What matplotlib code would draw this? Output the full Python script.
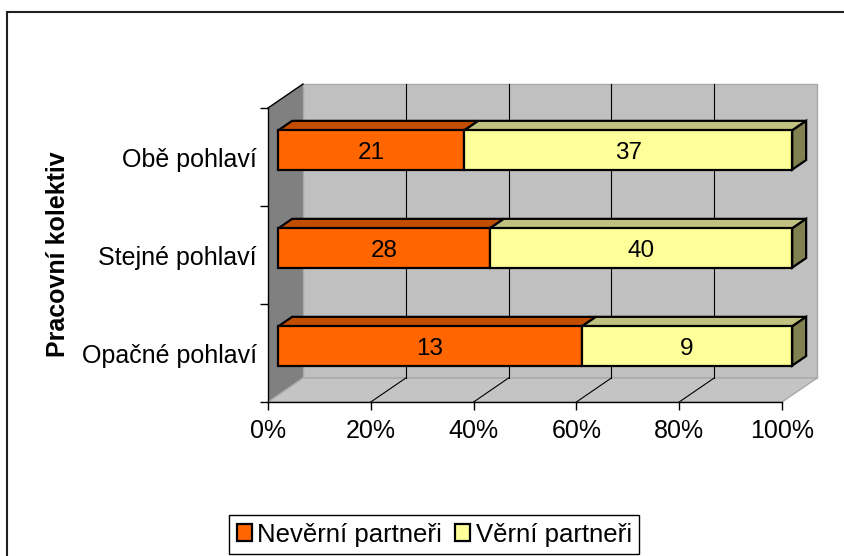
import matplotlib
matplotlib.use("Agg")
import matplotlib.pyplot as plt
from matplotlib.patches import Polygon, Rectangle, Patch
import numpy as np

plt.rcParams['font.family'] = ['Liberation Sans', 'DejaVu Sans']

# data (pocty odpovedi)
categories = ['Opačné pohlaví', 'Stejné pohlaví', 'Obě pohlaví']
neverni = [13, 28, 21]
verni = [9, 40, 37]
series_names = ['Nevěrní partneři', 'Věrní partneři']
x_ticks = [0, 20, 40, 60, 80, 100]
x_tick_labels = ['0%', '20%', '40%', '60%', '80%', '100%']
y_label = 'Pracovní kolektiv'

# barvy
front_cols = ['#FF6600', '#FFFF99']
top_cols = ['#C04D00', '#C0C080']
side_cols = ['#C04D00', '#808050']

W, H = 845, 556
fig = plt.figure(figsize=(W / 100, H / 100), dpi=100)
fig.patch.set_facecolor('white')

ax = fig.add_axes([268 / W, 1 - 402 / H, 514 / W, 294 / H])
ax.set_xlim(0, 100)
ax.set_ylim(-0.5, 2.5)
ax.patch.set_visible(False)

# hloubka 3D (v jednotkach dat)
DX = 35 / 514 * 100
DY = 24 / 294 * 3
d0, d1 = 0.29, 0.69
bh = 0.4


def pt(x, y, d):
    return (x + DX * d, y + DY * d)


# steny
left_wall = Polygon([pt(0, -0.5, 0), pt(0, 2.5, 0), pt(0, 2.5, 1), pt(0, -0.5, 1)],
                    closed=True, fc='#808080', ec='none', zorder=0, clip_on=False)
back_wall = Polygon([pt(0, -0.5, 1), pt(100, -0.5, 1), pt(100, 2.5, 1), pt(0, 2.5, 1)],
                    closed=True, fc='#C0C0C0', ec='#A8A8A8', lw=1, zorder=0, clip_on=False)
floor = Polygon([pt(0, -0.5, 0), pt(100, -0.5, 0), pt(100, -0.5, 1), pt(0, -0.5, 1)],
                closed=True, fc='#C4C4C4', ec='#A8A8A8', lw=1, zorder=0.5, clip_on=False)
for p in (left_wall, back_wall, floor):
    ax.add_patch(p)

# mrizka
for v in x_ticks[1:-1]:
    x0, y0 = pt(v, -0.5, 1)
    x1, y1 = pt(v, 2.5, 1)
    ax.plot([x0, x1], [y0, y1], color='black', lw=0.8, zorder=1, clip_on=False)
    xa, ya = pt(v, -0.5, 0)
    ax.plot([xa, x0], [ya, y0], color='black', lw=0.8, zorder=1, clip_on=False)
xa, ya = pt(0, 2.5, 0)
xb, yb = pt(0, 2.5, 1)
ax.plot([xa, xb], [ya, yb], color='black', lw=1, zorder=1, clip_on=False)

# sloupce (100% skladane)
neverni_a = np.array(neverni, dtype=float)
verni_a = np.array(verni, dtype=float)
total = neverni_a + verni_a
shares = [neverni_a / total * 100, verni_a / total * 100]
counts = [neverni_a, verni_a]
y_pos = np.arange(len(categories))

lefts = np.zeros(len(categories))
for s in range(2):
    w = shares[s]
    ax.barh(y_pos + DY * d0, w, left=lefts + DX * d0, height=bh,
            color=front_cols[s], edgecolor='black', lw=1.6, zorder=3, clip_on=False)
    for i in range(len(categories)):
        l, r = lefts[i], lefts[i] + w[i]
        yt = y_pos[i] + bh / 2
        top = Polygon([pt(l, yt, d0), pt(r, yt, d0), pt(r, yt, d1), pt(l, yt, d1)],
                      closed=True, fc=top_cols[s], ec='black', lw=1.6, zorder=2.5,
                      clip_on=False)
        ax.add_patch(top)
        if s == 1:
            yb_ = y_pos[i] - bh / 2
            side = Polygon([pt(r, yb_, d0), pt(r, yt, d0), pt(r, yt, d1), pt(r, yb_, d1)],
                           closed=True, fc=side_cols[s], ec='black', lw=1.6, zorder=2.5,
                           clip_on=False)
            ax.add_patch(side)
        cx, cy = pt(l + w[i] / 2, y_pos[i], d0)
        ax.text(cx, cy, '%d' % counts[s][i], ha='center', va='center_baseline',
                fontsize=17.5, color='black', zorder=5)
    lefts = lefts + w

# osy
for sp in ('top', 'right'):
    ax.spines[sp].set_visible(False)
ax.spines['left'].set_linewidth(1)
ax.spines['bottom'].set_linewidth(1)
ax.set_xticks(x_ticks)
ax.set_xticklabels(x_tick_labels, fontsize=18)
ax.set_yticks([-0.5, 0.5, 1.5, 2.5])
ax.set_yticklabels([])
ax.set_yticks(y_pos, minor=True)
ax.set_yticklabels(categories, minor=True, fontsize=18)
ax.tick_params(axis='x', direction='out', length=6, width=1, pad=6)
ax.tick_params(axis='y', which='major', direction='out', length=6, width=1)
ax.tick_params(axis='y', which='minor', length=0, pad=8)
ax.set_ylabel(y_label, fontsize=18, fontweight='bold')
ax.yaxis.set_label_coords(-(268 - 70) / 514, (402 - 254) / 294)

# legenda
handles = [Patch(fc=front_cols[0], ec='black', lw=1.6),
           Patch(fc=front_cols[1], ec='black', lw=1.6)]
leg = fig.legend(handles, series_names, loc='upper left',
                 bbox_to_anchor=(229 / W, 1 - 515 / H), ncol=2, fontsize=18.5,
                 frameon=True, fancybox=False, edgecolor='black', framealpha=1,
                 handlelength=0.6, handleheight=0.6, handletextpad=0.2,
                 columnspacing=0.5, borderpad=0.3, borderaxespad=0)
leg.get_frame().set_linewidth(1)

# ramecek grafu
fig.add_artist(Rectangle((7 / W, -0.1), 1.2, 1 - 12 / H + 0.1, transform=fig.transFigure,
                         fill=False, ec='#202020', lw=1.5))

fig.savefig('out.png', dpi=100)
